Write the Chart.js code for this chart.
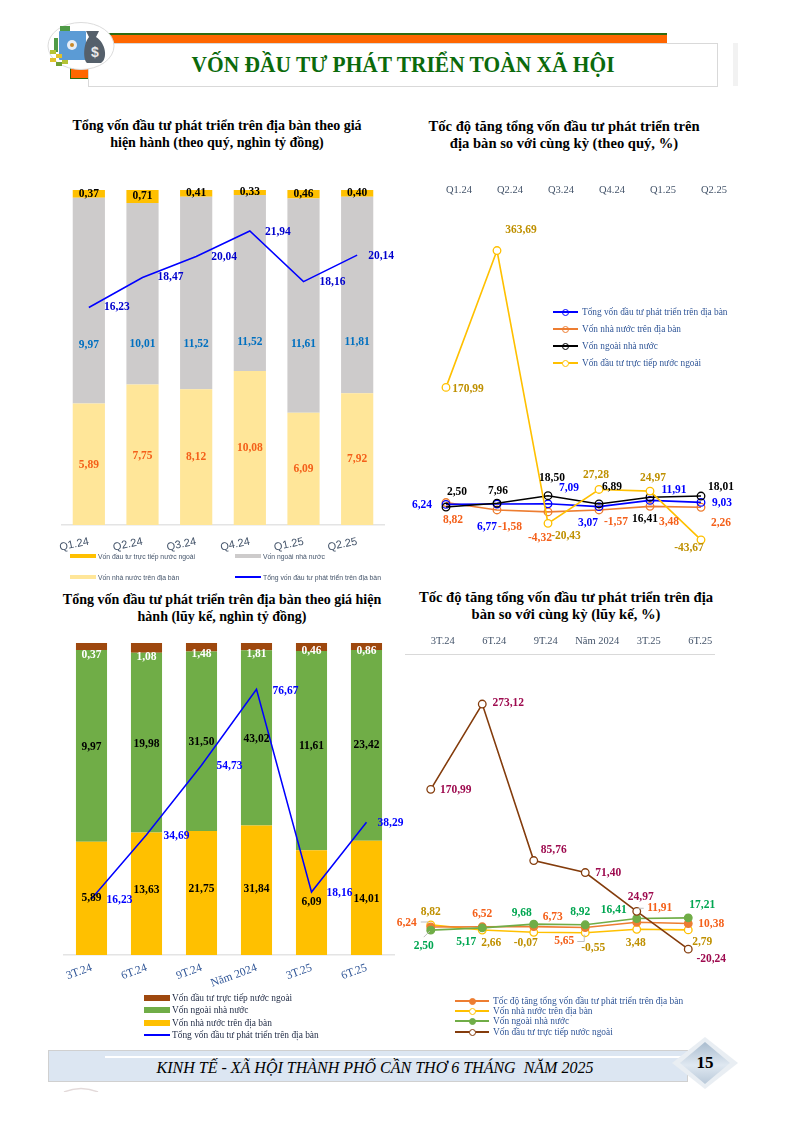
<!DOCTYPE html>
<html lang="vi">
<head>
<meta charset="utf-8">
<title>Vốn đầu tư phát triển toàn xã hội</title>
<script src="https://cdn.jsdelivr.net/npm/chart.js@4/dist/chart.umd.min.js"></script>
<style>
html, body { margin: 0; padding: 0; background: #fff; }
#page { position: relative; width: 794px; height: 1122px; overflow: hidden; font-family: "Liberation Serif", serif; }
#page > * { position: absolute; }
canvas { display: block; }
.title { font-weight: bold; color: #000; text-align: center; font-size: 14px; line-height: 16.5px; white-space: nowrap; }
.legend-row { position: absolute; white-space: nowrap; display: flex; align-items: center; height: 12px; }
.legend-key { position: relative; display: inline-block; flex: none; }
.legend-dot { position: absolute; box-sizing: border-box; border-radius: 50%; }
</style>
</head>
<body>
<div id="page">
  <!-- header -->
  <div style="left:108px;top:33px;width:559px;height:8px;background:#ff6600;border-top:2px solid #2e6b12;"></div>
  <div style="left:70px;top:68px;width:20px;height:9px;background:#ff6600;border:1px solid #2e6b12;"></div>
  <div style="left:733px;top:43px;width:5px;height:43px;background:#f2f2f2;"></div>
  <div style="left:88px;top:43px;width:630px;height:44px;box-sizing:border-box;background:#fff;border:1.5px solid #d9d9d9;"></div>
  <div style="left:88px;top:43px;width:630px;height:44px;line-height:43px;text-align:center;font-weight:bold;font-size:23px;color:#0b6a0b;white-space:nowrap;transform:scaleX(0.932);">VỐN ĐẦU TƯ PHÁT TRIỂN TOÀN XÃ HỘI</div>
  <svg style="left:46px;top:22px;" width="70" height="50" viewBox="0 0 70 50">
    <ellipse cx="35" cy="24" rx="33" ry="23.5" fill="#fff" stroke="#dcdcdc"/>
    <rect x="14" y="4" width="10" height="12" fill="#4f9a46"/>
    <rect x="8" y="16" width="4" height="14" fill="#4f9a46"/>
    <rect x="13" y="9" width="27" height="29" rx="1" fill="#5b9bd5"/>
    <circle cx="26" cy="23" r="5" fill="#e6eef7"/>
    <circle cx="26" cy="23" r="2" fill="#c98a2b"/>
    <path d="M40 9 L53 9 L50 15 C60 21 62 37 55 41 L41 41 C37 38 37 22 43 15 Z" fill="#55606b"/>
    <text x="49" y="35" font-size="14" font-weight="bold" fill="#e8e8e8" text-anchor="middle" font-family="Liberation Sans">$</text>
    <rect x="4" y="28" width="6" height="4" fill="#b5c334"/><rect x="10" y="32" width="6" height="4" fill="#e2c22b"/>
    <rect x="4" y="36" width="6" height="4" fill="#e2c22b"/><rect x="10" y="40" width="6" height="4" fill="#6e9f33"/>
    <rect x="16" y="38" width="6" height="4" fill="#b5c334"/>
  </svg>

  <!-- chart titles -->
  <div class="title" style="left:37px;top:118px;width:360px;">Tổng vốn đầu tư phát triển trên địa bàn theo giá<br>hiện hành (theo quý, nghìn tỷ đồng)</div>
  <div class="title" style="left:384px;top:118px;width:360px;font-size:14.6px;">Tốc độ tăng tổng vốn đầu tư phát triển trên<br>địa bàn so với cùng kỳ (theo quý, %)</div>
  <div class="title" style="left:22px;top:592px;width:400px;">Tổng vốn đầu tư phát triển trên địa bàn theo giá hiện<br>hành (lũy kế, nghìn tỷ đồng)</div>
  <div class="title" style="left:366px;top:589px;width:400px;font-size:14.6px;">Tốc độ tăng tổng vốn đầu tư phát triển trên địa<br>bàn so với cùng kỳ (lũy kế, %)</div>

  <canvas id="quarterBar" style="left:40px;top:180px;"></canvas>
  <canvas id="quarterGrowth" style="left:400px;top:175px;"></canvas>
  <canvas id="cumBar" style="left:40px;top:635px;"></canvas>
  <canvas id="cumGrowth" style="left:390px;top:625px;"></canvas>

  <!-- footer -->
  <div style="left:48px;top:1050px;width:640px;height:32px;box-sizing:border-box;background:#dce6f2;border:1px solid #d0d0d0;"></div>
  <div style="left:105px;top:1056px;width:580px;height:1.5px;background:#fff;"></div>
  <div style="left:48px;top:1051px;width:654px;height:34px;line-height:34px;text-align:center;font-style:italic;font-size:16px;color:#000;white-space:nowrap;">KINH TẾ - XÃ HỘI THÀNH PHỐ CẦN THƠ 6 THÁNG&nbsp; NĂM 2025</div>
  <svg style="left:670px;top:1036px;" width="70" height="54" viewBox="0 0 70 54">
    <defs><linearGradient id="dia" x1="0" y1="0" x2="0" y2="1"><stop offset="0" stop-color="#a9bccf"/><stop offset="0.55" stop-color="#dfe8f1"/><stop offset="1" stop-color="#b9c9d9"/></linearGradient></defs>
    <polygon points="35,1 68,27 35,53 2,27" fill="#e9eef3"/>
    <polygon points="35,6 60,27 35,48 10,27" fill="url(#dia)"/>
  </svg>
  <div style="left:670px;top:1050px;width:70px;text-align:center;font-weight:bold;font-size:17px;line-height:26px;color:#000;">15</div>
  <svg style="left:62px;top:1087px;" width="38" height="5" viewBox="0 0 38 5"><path d="M2 5 Q19 -2 36 5" fill="none" stroke="#e3dada" stroke-width="1.5"/></svg>
</div>

<script>
var quarters = ["Q1.24", "Q2.24", "Q3.24", "Q4.24", "Q1.25", "Q2.25"];
var periods = ["3T.24", "6T.24", "9T.24", "Năm 2024", "3T.25", "6T.25"];

// quý, nghìn tỷ đồng
var qState = [5.89, 7.75, 8.12, 10.08, 6.09, 7.92];
var qNonState = [9.97, 10.01, 11.52, 11.52, 11.61, 11.81];
var qFdi = [0.37, 0.71, 0.41, 0.33, 0.46, 0.40];
var qTotal = [16.23, 18.47, 20.04, 21.94, 18.16, 20.14];

// lũy kế, nghìn tỷ đồng
var cState = [5.89, 13.63, 21.75, 31.84, 6.09, 14.01];
var cNonState = [9.97, 19.98, 31.50, 43.02, 11.61, 23.42];
var cFdi = [0.37, 1.08, 1.48, 1.81, 0.46, 0.86];
var cTotal = [16.23, 34.69, 54.73, 76.67, 18.16, 38.29];

// tốc độ tăng theo quý, %
var qgTotal = [6.24, 6.77, 7.09, 3.07, 11.91, 9.03];
var qgState = [8.82, -1.58, -4.32, -1.57, 3.48, 2.26];
var qgNonState = [2.50, 7.96, 18.50, 6.89, 16.41, 18.01];
var qgFdi = [170.99, 363.69, -20.43, 27.28, 24.97, -43.67];

// tốc độ tăng lũy kế, %
var cgTotal = [6.24, 6.52, 6.73, 5.65, 11.91, 10.38];
var cgState = [8.82, 2.66, -0.07, -0.55, 3.48, 2.79];
var cgNonState = [2.50, 5.17, 9.68, 8.92, 16.41, 17.21];
var cgFdi = [170.99, 273.12, 85.76, 71.40, 24.97, -20.24];

var SERIF = '"Liberation Serif", serif';
var SANS = '"Liberation Sans", sans-serif';

function shares(part, a, b, c) {
  return part.map(function (v, i) { return v / (a[i] + b[i] + c[i]); });
}

// nhãn số liệu: mỗi dataset có labelColor và labelOffsets [dx, dy]
var pointLabels = {
  id: "pointLabels",
  afterDatasetsDraw: function (chart) {
    var ctx = chart.ctx;
    ctx.save();
    chart.data.datasets.forEach(function (ds, d) {
      if (!ds.labelOffsets) return;
      var meta = chart.getDatasetMeta(d);
      var values = ds.rawValues || ds.data;
      meta.data.forEach(function (el, i) {
        var x = el.x;
        var y = ds.type === "bar" ? (el.y + el.base) / 2 : el.y;
        if (ds.leaders && ds.leaders[i]) {
          ctx.strokeStyle = "#bfbfbf";
          ctx.lineWidth = 1;
          ctx.beginPath();
          ds.leaders[i].forEach(function (p, k) {
            if (k === 0) ctx.moveTo(x + p[0], y + p[1]);
            else ctx.lineTo(x + p[0], y + p[1]);
          });
          ctx.stroke();
        }
        ctx.font = "bold " + (ds.labelSize || 11.5) + "px " + SERIF;
        ctx.fillStyle = ds.labelColor;
        ctx.textAlign = "center";
        ctx.textBaseline = "middle";
        ctx.fillText(values[i].toFixed(2).replace(".", ","), x + ds.labelOffsets[i][0], y + ds.labelOffsets[i][1]);
      });
    });
    ctx.restore();
  }
};

function fixAxis(height) {
  return function (scale) {
    scale.height = height;
    scale.paddingLeft = 0;
    scale.paddingRight = 0;
  };
}

function setSize(id, w, h) {
  var c = document.getElementById(id);
  c.width = w;
  c.height = h;
  c.style.width = w + "px";
  c.style.height = h + "px";
  return c;
}

// chú giải vẽ bằng HTML từ dataset của biểu đồ
function addLegend(chart, rows, keyW, keyH, gap, font, size, color) {
  var page = document.getElementById("page");
  rows.forEach(function (row) {
    var ds = chart.data.datasets[row.index];
    var div = document.createElement("div");
    div.className = "legend-row";
    div.style.left = row.x + "px";
    div.style.top = (row.y - 6) + "px";
    div.style.font = size + "px " + font;
    div.style.color = color;
    var key = document.createElement("span");
    key.className = "legend-key";
    key.style.width = keyW + "px";
    key.style.marginRight = gap + "px";
    var isLine = ds.type === "line";
    key.style.height = (isLine ? (row.lineH || 1.5) : keyH) + "px";
    key.style.background = isLine ? ds.borderColor : ds.backgroundColor;
    if (isLine && ds.pointRadius > 0) {
      var dot = document.createElement("span");
      dot.className = "legend-dot";
      var r = 3.5;
      dot.style.width = r * 2 + "px";
      dot.style.height = r * 2 + "px";
      dot.style.left = keyW / 2 - r + "px";
      dot.style.top = (row.lineH || 1.5) / 2 - r + "px";
      dot.style.background = ds.pointBackgroundColor;
      dot.style.border = "1.5px solid " + ds.borderColor;
      key.appendChild(dot);
    }
    div.appendChild(key);
    div.appendChild(document.createTextNode(ds.label));
    page.appendChild(div);
  });
}

function stackedOptions(padding, axisH, rotation, tickFont, tickColor, tickPad, lineMax) {
  return {
    responsive: false,
    animation: false,
    layout: { padding: padding },
    plugins: { legend: { display: false }, tooltip: { enabled: false } },
    scales: {
      x: {
        stacked: true,
        grid: { display: false, drawTicks: false },
        border: { color: "#e4e4e4", width: 1.5 },
        afterFit: fixAxis(axisH),
        ticks: { minRotation: rotation, maxRotation: rotation, color: tickColor, padding: tickPad, font: tickFont, autoSkip: false }
      },
      y: { stacked: true, display: false, min: 0, max: 1 },
      y1: { display: false, min: 0, max: lineMax }
    }
  };
}

// --- biểu đồ 1: theo quý
var quarterBar = new Chart(setSize("quarterBar", 370, 380), {
  type: "bar",
  data: {
    labels: quarters,
    datasets: [
      { type: "line", label: "Tổng vốn đầu tư phát triển trên địa bàn", data: qTotal, yAxisID: "y1", order: 0,
        borderColor: "#0000ff", borderWidth: 1.5, pointRadius: 0, tension: 0,
        labelColor: "#0000cc", labelOffsets: [[28, 0], [28, 0], [28, 1], [28, 1], [29, 0], [24, 1]] },
      { type: "bar", label: "Vốn nhà nước trên địa bàn", data: shares(qState, qState, qNonState, qFdi), rawValues: qState, yAxisID: "y", order: 1,
        backgroundColor: "#ffe699", barPercentage: 0.6, categoryPercentage: 1,
        labelColor: "#f4601a", labelOffsets: [[0, 1], [0, 1], [0, 0], [0, 0], [0, 0], [0, 0]] },
      { type: "bar", label: "Vốn ngoài nhà nước", data: shares(qNonState, qState, qNonState, qFdi), rawValues: qNonState, yAxisID: "y", order: 1,
        backgroundColor: "#cdcbcb", barPercentage: 0.6, categoryPercentage: 1,
        labelColor: "#0070c0", labelOffsets: [[0, 44], [0, 50], [0, 51], [0, 59], [0, 38], [0, 47]] },
      { type: "bar", label: "Vốn đầu tư trực tiếp nước ngoài", data: shares(qFdi, qState, qNonState, qFdi), rawValues: qFdi, yAxisID: "y", order: 1,
        backgroundColor: "#ffc000", barPercentage: 0.6, categoryPercentage: 1,
        labelColor: "#000", labelOffsets: [[0, 0], [0, 0], [0, 0], [0, 0], [0, 0], [0, 0]] }
    ]
  },
  options: stackedOptions({ left: 22, right: 26, top: 10, bottom: 0 }, 35, 12, { family: SANS, size: 11 }, "#44546a", 10, 25),
  plugins: [pointLabels]
});
addLegend(quarterBar, [
  { index: 3, x: 70, y: 556 },
  { index: 2, x: 235, y: 556 },
  { index: 1, x: 70, y: 577 },
  { index: 0, x: 235, y: 577 }
], 26, 3.5, 2, SANS, 6.8, "#44546a");

// --- biểu đồ 3: lũy kế
var cumBar = new Chart(setSize("cumBar", 380, 365), {
  type: "bar",
  data: {
    labels: periods,
    datasets: [
      { type: "line", label: "Tổng vốn đầu tư phát triển trên địa bàn", data: cTotal, yAxisID: "y1", order: 0,
        borderColor: "#0000ff", borderWidth: 1.5, pointRadius: 0, tension: 0,
        labelColor: "#0000ff", labelOffsets: [[28, 1], [30, 1], [28, 1], [29, 2], [28, 1], [24, 1]] },
      { type: "bar", label: "Vốn nhà nước trên địa bàn", data: shares(cState, cState, cNonState, cFdi), rawValues: cState, yAxisID: "y", order: 1,
        backgroundColor: "#ffc000", barPercentage: 0.565, categoryPercentage: 1,
        labelColor: "#000", labelOffsets: [[0, 0], [0, -4], [0, -4], [0, -1], [0, -1], [0, 1]] },
      { type: "bar", label: "Vốn ngoài nhà nước", data: shares(cNonState, cState, cNonState, cFdi), rawValues: cNonState, yAxisID: "y", order: 1,
        backgroundColor: "#70ad47", barPercentage: 0.565, categoryPercentage: 1,
        labelColor: "#000", labelOffsets: [[0, 1], [0, 1], [0, 1], [0, 1], [0, -5], [0, 0]] },
      { type: "bar", label: "Vốn đầu tư trực tiếp nước ngoài", data: shares(cFdi, cState, cNonState, cFdi), rawValues: cFdi, yAxisID: "y", order: 1,
        backgroundColor: "#9e480e", barPercentage: 0.565, categoryPercentage: 1,
        labelColor: "#fff", labelOffsets: [[0, 8], [0, 9], [0, 7], [0, 7], [0, 4], [0, 5]] }
    ]
  },
  options: stackedOptions({ left: 24, right: 26, top: 8, bottom: 0 }, 45, 20, { family: SERIF, size: 11.5 }, "#2f5597", 6, 90),
  plugins: [pointLabels]
});
addLegend(cumBar, [
  { index: 3, x: 144, y: 998 },
  { index: 2, x: 144, y: 1010 },
  { index: 1, x: 144, y: 1023 },
  { index: 0, x: 144, y: 1035 }
], 26, 5.5, 2, SERIF, 9.4, "#1f2a44");

function growthOptions(padding, axisH, tickFont, tickColor, tickPad, labelShift, borderColor, min, max) {
  return {
    responsive: false,
    animation: false,
    layout: { padding: padding },
    plugins: { legend: { display: false }, tooltip: { enabled: false } },
    scales: {
      x: {
        position: "top",
        offset: true,
        grid: { display: false, drawTicks: false },
        border: { display: !!borderColor, color: borderColor || "#fff", width: 1 },
        afterFit: fixAxis(axisH),
        ticks: { maxRotation: 0, minRotation: 0, color: tickColor, padding: tickPad, labelOffset: labelShift, font: tickFont, autoSkip: false }
      },
      y: { display: false, min: min, max: max }
    }
  };
}

function growthLine(label, values, color, fill, order, labelColor, offsets) {
  return {
    type: "line", label: label, data: values, order: order, tension: 0,
    borderColor: color, borderWidth: 1.6,
    pointRadius: 3.8, pointBorderWidth: 1.3, pointBorderColor: color, pointBackgroundColor: fill,
    labelColor: labelColor, labelOffsets: offsets, labelSize: 11.5
  };
}

// --- biểu đồ 2: tốc độ tăng theo quý
var quarterGrowth = new Chart(setSize("quarterGrowth", 360, 400), {
  type: "line",
  data: {
    labels: quarters,
    datasets: [
      growthLine("Tổng vốn đầu tư phát triển trên địa bàn", qgTotal, "#0000ff", "rgba(255,255,255,0)", 3, "#0000ff",
        [[-24, 1], [-10, 23], [21, -16], [-11, 16], [24, -10], [21, 1]]),
      growthLine("Vốn nhà nước trên địa bàn", qgState, "#ed7d31", "rgba(255,255,255,0)", 4, "#f4601a",
        [[7, 17], [13, 17], [-8, 26], [17, 12], [19, 16], [20, 16]]),
      growthLine("Vốn ngoài nhà nước", qgNonState, "#000000", "rgba(255,255,255,0)", 2, "#000",
        [[11, -15], [1, -12], [4, -18], [13, -17], [-5, 22], [20, -9]]),
      growthLine("Vốn đầu tư trực tiếp nước ngoài", qgFdi, "#ffc000", "#ffffff", 1, "#bf9000",
        [[22, 2], [24, -21], [18, 13], [-3, -14], [3, -13], [-12, 8]])
    ]
  },
  options: growthOptions({ left: 20.5, right: 33.5, top: 6, bottom: 20 }, 26, { family: SERIF, size: 10.5 }, "#44546a", 10, 13, null, -65, 425),
  plugins: [pointLabels]
});
addLegend(quarterGrowth, [
  { index: 0, x: 553, y: 312 },
  { index: 1, x: 553, y: 329 },
  { index: 2, x: 553, y: 346 },
  { index: 3, x: 553, y: 363 }
], 25, 2, 4, SERIF, 9.3, "#2f5597");

// --- biểu đồ 4: tốc độ tăng lũy kế
var cgTotalLine = growthLine("Tốc độ tăng tổng vốn đầu tư phát triển trên địa bàn", cgTotal, "#ed7d31", "#ed7d31", 3, "#f4601a",
  [[-24, -4], [0, -13], [19, -10], [-21, 14], [23, -14], [23, 0]]);
cgTotalLine.leaders = { 0: [[-10, -5], [-2, -5]], 3: [[-8, 14], [-1, 14], [-1, 7]], 4: [[1, -14], [7, -14]] };
var cgNonStateLine = growthLine("Vốn ngoài nhà nước", cgNonState, "#70ad47", "#70ad47", 2, "#00a651",
  [[-7, 16], [-16, 14], [-12, -11], [-5, -13], [-23, -8], [14, -13]]);
cgNonStateLine.leaders = { 0: [[-7, 7], [-1, 1]] };

var cumGrowth = new Chart(setSize("cumGrowth", 370, 360), {
  type: "line",
  data: {
    labels: periods,
    datasets: [
      cgTotalLine,
      growthLine("Vốn nhà nước trên địa bàn", cgState, "#ffc000", "#ffffff", 4, "#bf9000",
        [[0, -13], [9, 13], [-8, 11], [8, 15], [-1, 14], [14, 12]]),
      cgNonStateLine,
      growthLine("Vốn đầu tư trực tiếp nước ngoài", cgFdi, "#843c0c", "#ffffff", 1, "#9e0b4f",
        [[25, 1], [26, -1], [20, -11], [23, 0], [4, -14], [23, 10]])
    ]
  },
  options: growthOptions({ left: 15, right: 46, top: 4, bottom: 11 }, 25, { family: SERIF, size: 10.5 }, "#44546a", 6, 12, "#d9d9d9", -50, 333),
  plugins: [pointLabels]
});
addLegend(cumGrowth, [
  { index: 0, x: 455, y: 1001 },
  { index: 1, x: 455, y: 1011 },
  { index: 2, x: 455, y: 1021 },
  { index: 3, x: 455, y: 1032 }
], 34, 2, 4, SERIF, 9.35, "#2f5597");
</script>
</body>
</html>
